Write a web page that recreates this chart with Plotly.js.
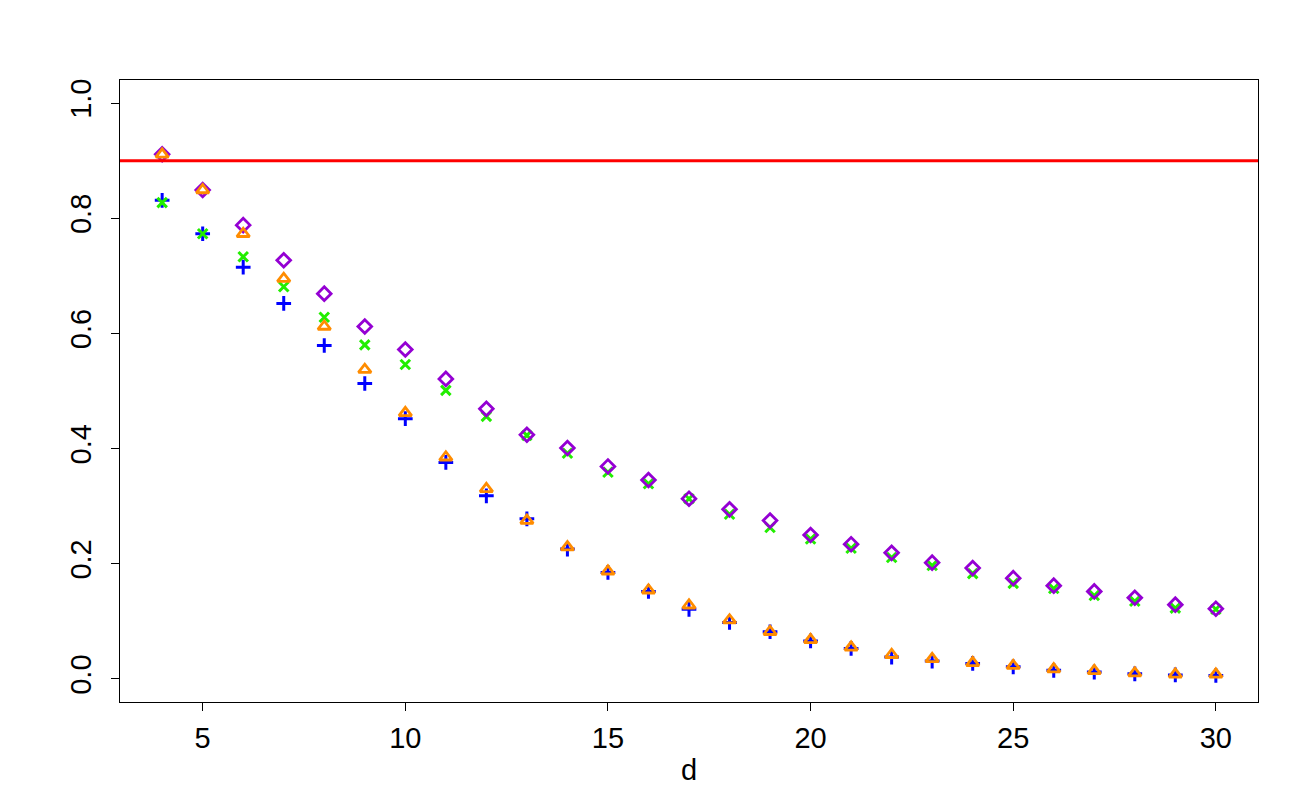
<!DOCTYPE html>
<html>
<head>
<meta charset="utf-8">
<script src="https://cdn.plot.ly/plotly-3.0.1.min.js"></script>
<style>
  html, body { margin: 0; padding: 0; background: #ffffff; }
  #chart { width: 1300px; height: 800px; }
</style>
</head>
<body>
<div id="chart"></div>
<script>
const d = [4,5,6,7,8,9,10,11,12,13,14,15,16,17,18,19,20,21,22,23,24,25,26,27,28,29,30];

const bluePlus = [0.831,0.773,0.715,0.652,0.579,0.513,0.452,0.376,0.318,0.278,0.2255,0.185,0.152,0.121,0.098,0.082,0.066,0.053,0.038,0.031,0.027,0.021,0.015,0.012,0.009,0.007,0.006];
const greenX = [0.827,0.773,0.733,0.681,0.628,0.580,0.546,0.501,0.456,0.423,0.392,0.359,0.339,0.313,0.286,0.263,0.243,0.227,0.211,0.197,0.183,0.166,0.157,0.145,0.135,0.123,0.121];
const purpleDiamond = [0.911,0.849,0.788,0.727,0.669,0.612,0.572,0.521,0.469,0.424,0.401,0.369,0.3455,0.313,0.2945,0.275,0.250,0.234,0.219,0.202,0.1925,0.175,0.162,0.152,0.141,0.129,0.122];
const orangeTriangle = [0.911,0.849,0.773,0.695,0.612,0.537,0.462,0.385,0.330,0.275,0.229,0.187,0.154,0.128,0.102,0.082,0.068,0.055,0.042,0.035,0.028,0.023,0.017,0.014,0.010,0.008,0.008];

const refLevel = 0.9;
const yTicks = [0, 0.2, 0.4, 0.6, 0.8, 1.0];
const xTicks = [5, 10, 15, 20, 25, 30];

function series(y, symbol, color, size, lw) {
  return {
    x: d, y: y, type: 'scatter', mode: 'markers', showlegend: false,
    marker: { symbol: symbol, size: size, color: color, line: { color: color, width: lw } },
    cliponaxis: false
  };
}

const data = [
  series(bluePlus, 'cross-thin-open', '#0000FF', 10.5, 3),
  series(greenX, 'x-thin-open', '#22EE00', 9.5, 3),
  series(purpleDiamond, 'diamond-open', '#9400D3', 10.5, 2.8),
  series(orangeTriangle, 'triangle-up-open', '#FF8C00', 11, 2.8)
];

const font = { family: 'Liberation Sans, Arial, Helvetica, sans-serif', size: 29, color: '#000000' };

const layout = {
  width: 1300, height: 800,
  paper_bgcolor: '#ffffff', plot_bgcolor: '#ffffff',
  margin: { l: 120, r: 42, t: 80, b: 98 },
  font: font,
  showlegend: false,
  xaxis: {
    range: [2.96, 31.04],
    tickvals: xTicks, ticktext: xTicks.map(String),
    ticks: 'outside', ticklen: 8, tickwidth: 1, tickcolor: '#000',
    showline: true, linecolor: '#000', linewidth: 1, mirror: true,
    showgrid: false, zeroline: false,
    tickfont: font,
    ticklabelstandoff: 2,
    title: { text: 'd', font: font, standoff: 6 }
  },
  yaxis: {
    range: [-0.04, 1.04],
    tickvals: yTicks, ticktext: yTicks.map(v => v.toFixed(1)),
    tickangle: -90,
    ticks: 'outside', ticklen: 8, tickwidth: 1, tickcolor: '#000',
    showline: true, linecolor: '#000', linewidth: 1, mirror: true,
    showgrid: false, zeroline: false,
    tickfont: font,
    ticklabelstandoff: 8
  },
  shapes: [{
    type: 'line', xref: 'paper', x0: 0, x1: 1, yref: 'y', y0: refLevel, y1: refLevel,
    line: { color: '#FF0000', width: 3 }, layer: 'above'
  }]
};

Plotly.newPlot('chart', data, layout, { displayModeBar: false, staticPlot: true });
</script>
</body>
</html>
